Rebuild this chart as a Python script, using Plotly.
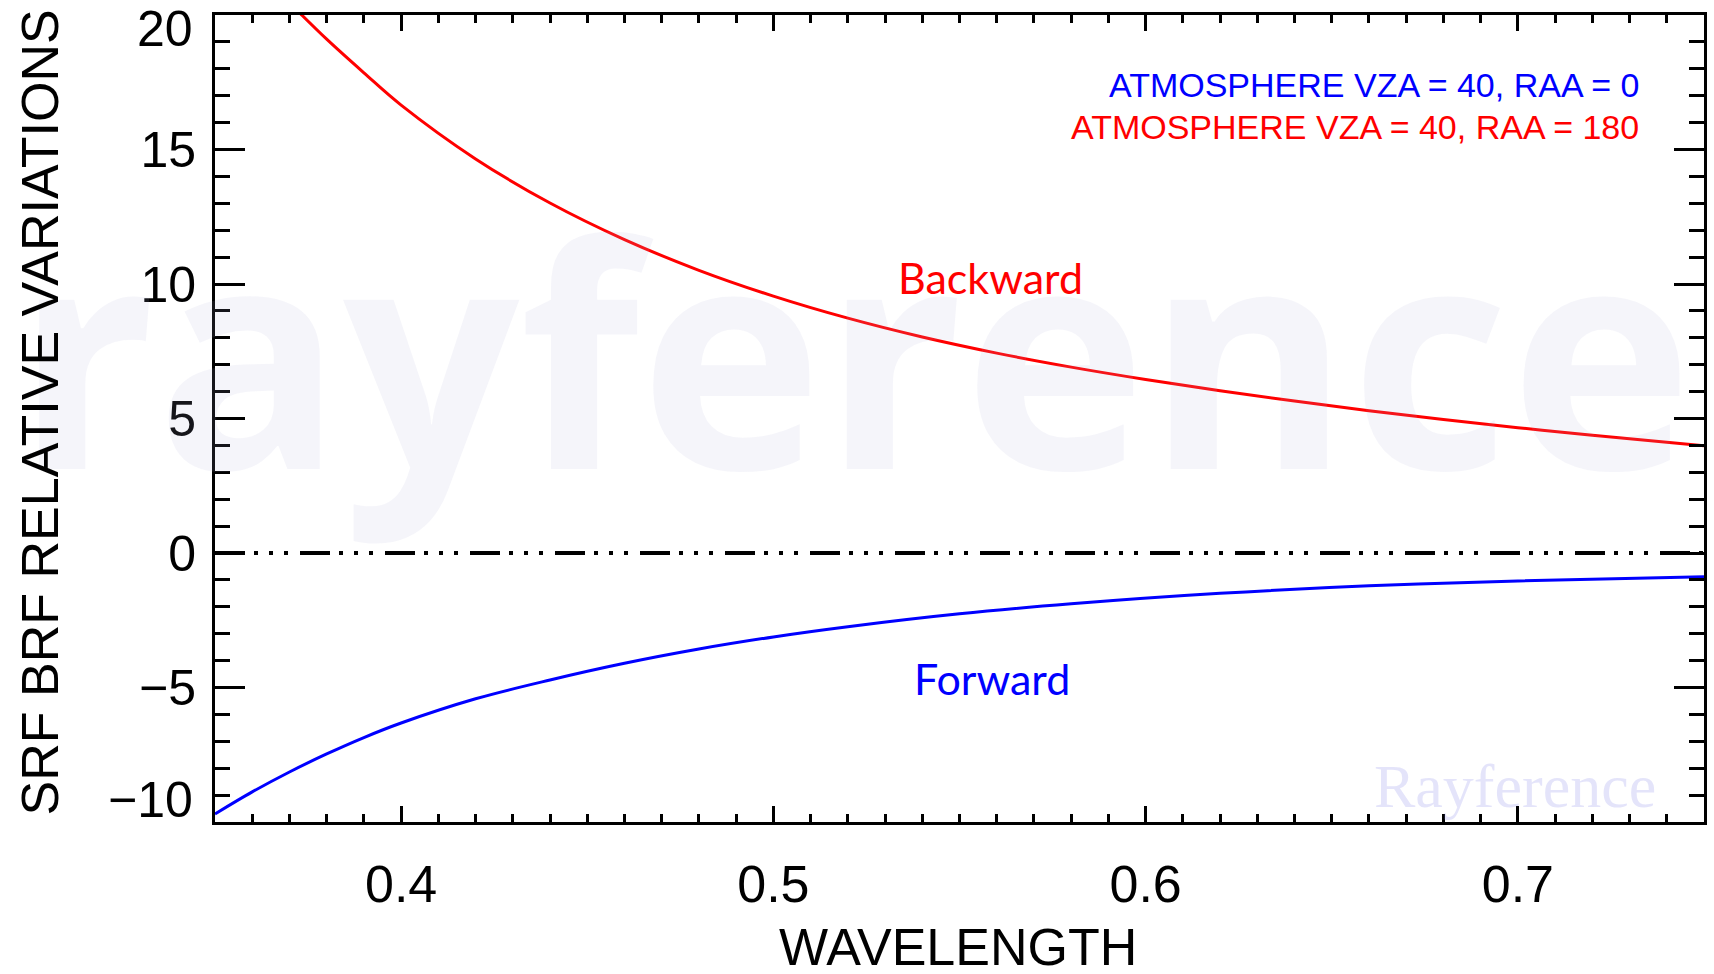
import plotly.graph_objects as go

# Wavelength grid (micrometres) and SRF BRF relative variations (%)
wl_backward = [0.35, 0.36, 0.37, 0.38, 0.39, 0.40, 0.42, 0.44, 0.46, 0.48, 0.50,
               0.52, 0.54, 0.56, 0.58, 0.60, 0.62, 0.64, 0.66, 0.68, 0.70, 0.72, 0.75]
srf_backward = [23.3, 21.8, 20.45, 19.1, 17.85, 16.65, 14.65, 13.01, 11.65, 10.51, 9.55,
                8.73, 8.03, 7.43, 6.91, 6.45, 6.03, 5.65, 5.29, 4.96, 4.66, 4.38, 3.99]

wl_forward = [0.35, 0.36, 0.37, 0.38, 0.39, 0.40, 0.42, 0.44, 0.46, 0.48, 0.50,
              0.52, 0.55, 0.58, 0.62, 0.66, 0.70, 0.75]
srf_forward = [-9.7, -8.88, -8.14, -7.47, -6.86, -6.32, -5.42, -4.72, -4.10, -3.57, -3.12,
               -2.74, -2.26, -1.89, -1.50, -1.22, -1.04, -0.88]

x_range = [0.35, 0.75]
y_range = [-10, 20]
y_tickvals = [-10, -5, 0, 5, 10, 15, 20]
y_ticktext = ["", "\u22125", "0", "5", "10", "15", ""]
x_tickvals = [0.4, 0.5, 0.6, 0.7]
x_ticktext = ["0.4", "0.5", "0.6", "0.7"]

series_labels = ["ATMOSPHERE VZA = 40, RAA = 0", "ATMOSPHERE VZA = 40, RAA = 180"]

IDL_FONT = "Liberation Sans Narrow, Liberation Sans, Arial, sans-serif"
BLUE = "#0000ff"
RED = "#ff0000"

fig = go.Figure()

# zero reference line (dash-dot-dot-dot)
fig.add_trace(go.Scatter(
    x=x_range, y=[0, 0], mode="lines",
    line=dict(color="black", width=4, dash="30px,9px,4px,11px,4px,11px,4px,12px"),
    hoverinfo="skip", showlegend=False))

fig.add_trace(go.Scatter(
    x=wl_forward, y=srf_forward, mode="lines", name=series_labels[0],
    line=dict(color=BLUE, width=3, shape="spline", smoothing=1.0), showlegend=False))
fig.add_trace(go.Scatter(
    x=wl_backward, y=srf_backward, mode="lines", name=series_labels[1],
    line=dict(color=RED, width=3, shape="spline", smoothing=1.0), showlegend=False))

axis_common = dict(
    showgrid=False, zeroline=False, showline=True, linecolor="black", linewidth=3,
    mirror="allticks", ticks="inside", tickcolor="black", tickwidth=3,
)

fig.update_xaxes(
    range=x_range, tickmode="array", tickvals=x_tickvals, ticktext=x_ticktext,
    ticklen=16, ticklabelstandoff=15,
    tickfont=dict(family=IDL_FONT, size=52, color="black"),
    minor=dict(dtick=0.01, tick0=0.35, ticks="inside", ticklen=8, tickwidth=3, tickcolor="black"),
    **axis_common)
fig.update_yaxes(
    range=y_range, tickmode="array", tickvals=y_tickvals, ticktext=y_ticktext,
    ticklen=30, ticklabelstandoff=6,
    tickfont=dict(family=IDL_FONT, size=50, color="black"),
    minor=dict(dtick=1, tick0=0, ticks="inside", ticklen=15, tickwidth=3, tickcolor="black"),
    **axis_common)

annotations = [
    # faint background lettering
    dict(text="<b>rayference</b>", xref="paper", yref="paper", x=0.429, y=0.586,
         xanchor="center", yanchor="middle", showarrow=False,
         font=dict(family="Open Sans, sans-serif", size=310,
                   color="rgba(170,170,215,0.12)")),
    dict(text="Rayference", xref="paper", yref="paper", x=0.969, y=0.0446,
         xanchor="right", yanchor="middle", showarrow=False,
         font=dict(family="Liberation Serif, serif", size=62, color="rgba(120,120,230,0.2)")),
    # end labels of the y axis, kept inside the frame
    dict(text="20", xref="paper", yref="y", x=0, y=20, xanchor="right", yanchor="top",
         xshift=-20, yshift=16, showarrow=False,
         font=dict(family=IDL_FONT, size=50, color="black")),
    dict(text="\u221210", xref="paper", yref="y", x=0, y=-10, xanchor="right", yanchor="bottom",
         xshift=-20, yshift=-8, showarrow=False,
         font=dict(family=IDL_FONT, size=50, color="black")),
    # series key
    dict(text=series_labels[0], xref="paper", yref="paper", x=0.958, y=0.913,
         xanchor="right", yanchor="middle", showarrow=False,
         font=dict(family=IDL_FONT, size=34, color=BLUE)),
    dict(text=series_labels[1], xref="paper", yref="paper", x=0.958, y=0.861,
         xanchor="right", yanchor="middle", showarrow=False,
         font=dict(family=IDL_FONT, size=34, color=RED)),
    # curve labels
    dict(text="Backward", xref="x", yref="y", x=0.5582, y=10.26,
         xanchor="center", yanchor="middle", showarrow=False,
         font=dict(family="Lato, Carlito, sans-serif", size=43, color=RED)),
    dict(text="Forward", xref="x", yref="y", x=0.5586, y=-4.65,
         xanchor="center", yanchor="middle", showarrow=False,
         font=dict(family="Lato, Carlito, sans-serif", size=43, color=BLUE)),
    # axis titles
    dict(text="WAVELENGTH", xref="paper", yref="paper", x=0.4993, y=-0.155,
         xanchor="center", yanchor="middle", showarrow=False,
         font=dict(family=IDL_FONT, size=52, color="black")),
    dict(text="SRF BRF RELATIVE VARIATIONS", xref="paper", yref="paper", x=-0.1173, y=0.508,
         xanchor="center", yanchor="middle", textangle=-90, showarrow=False,
         font=dict(family=IDL_FONT, size=52, color="black")),
]

fig.update_layout(
    width=1714, height=974,
    margin=dict(l=215, r=7, t=15, b=152),
    paper_bgcolor="white", plot_bgcolor="white",
    annotations=annotations,
    showlegend=False,
)

fig.write_html("out.html")
